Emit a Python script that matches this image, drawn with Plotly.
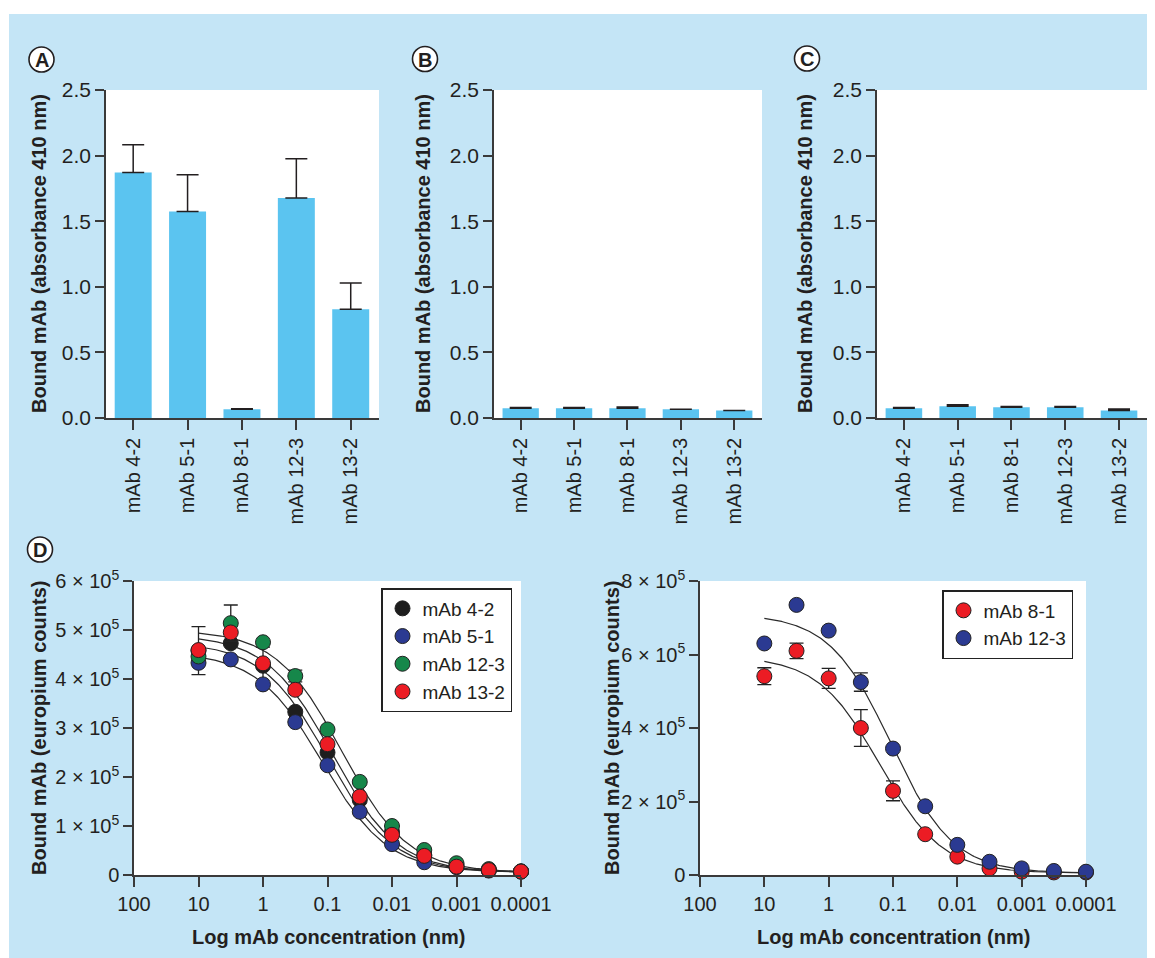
import numpy as np
import plotly.graph_objects as go

# page body has an 8px default margin: the figure is sized so it fills the
# 1155x958 window exactly from (8, 8)
OFF = 8
W, H = 1155 - OFF, 958 - OFF

# ---------------- data ----------------
categories = ["mAb 4-2", "mAb 5-1", "mAb 8-1", "mAb 12-3", "mAb 13-2"]
a_vals = [1.872, 1.574, 0.066, 1.676, 0.829]
a_err = [0.21, 0.28, 0.005, 0.30, 0.20]
b_vals = [0.074, 0.074, 0.074, 0.066, 0.058]
b_err = [0.006, 0.006, 0.010, 0.0, 0.0]
c_vals = [0.074, 0.089, 0.081, 0.081, 0.058]
c_err = [0.006, 0.012, 0.006, 0.006, 0.010]

conc = [10, 3.16, 1, 0.316, 0.1, 0.0316, 0.01, 0.00316, 0.001, 0.000316, 0.0001]

# Panel D left (x 1e5 europium counts)
d1_mab42 = [4.58, 4.73, 4.27, 3.33, 2.50, 1.53, 0.88, 0.41, 0.20, 0.10, 0.07]
d1_mab42_err = [0.49, 0, 0.38, 0, 0, 0, 0, 0, 0, 0, 0]
d1_mab51 = [4.33, 4.40, 3.89, 3.12, 2.24, 1.29, 0.63, 0.26, 0.16, 0.09, 0.07]
d1_mab51_err = [0] * 11
d1_mab123 = [4.46, 5.14, 4.75, 4.06, 2.97, 1.90, 1.00, 0.51, 0.24, 0.12, 0.075]
d1_mab123_err = [0, 0.37, 0, 0.12, 0, 0, 0, 0, 0, 0, 0]
d1_mab132 = [4.59, 4.95, 4.32, 3.78, 2.67, 1.60, 0.82, 0.39, 0.17, 0.10, 0.07]
d1_mab132_err = [0, 0, 0, 0.08, 0, 0, 0, 0, 0, 0, 0]

# Panel D right
d2_mab81 = [5.41, 6.10, 5.35, 4.00, 2.29, 1.11, 0.50, 0.18, 0.09, 0.07, 0.07]
d2_mab81_err = [0.23, 0.21, 0.27, 0.50, 0.27, 0, 0, 0, 0, 0, 0]
d2_mab123 = [6.30, 7.35, 6.65, 5.25, 3.44, 1.87, 0.82, 0.36, 0.18, 0.11, 0.09]
d2_mab123_err = [0, 0, 0, 0.25, 0, 0, 0, 0, 0, 0, 0]

# fitted 4-parameter logistic curves (top, bottom, EC50 nm, hill), x 1e5
fit_d1 = {"mAb 4-2": (4.75, 0.05, 0.10, 0.85),
          "mAb 5-1": (4.55, 0.05, 0.12, 0.85),
          "mAb 12-3": (5.00, 0.05, 0.06, 0.85),
          "mAb 13-2": (4.90, 0.05, 0.085, 0.85)}
fit_d2 = {"mAb 8-1": (5.95, 0.05, 0.16, 0.9),
          "mAb 12-3": (7.10, 0.05, 0.107, 0.9)}

d1_yticks = [0, 1, 2, 3, 4, 5, 6]
d2_yticks = [0, 2, 4, 6, 8]
d_xticks = [100, 10, 1, 0.1, 0.01, 0.001, 0.0001]
d_xticktext = ["100", "10", "1", "0.1", "0.01", "0.001", "0.0001"]

# ---------------- style ----------------
BG = "#c4e5f6"
BAR = "#5bc4f0"
INK = "#231f20"
AX = "#3a3a3a"
FONT = "Liberation Sans, Arial, sans-serif"
COL = {"black": "#1e1e1e", "blue": "#2b3a92", "green": "#16874a", "red": "#ec1c24"}

def X(p):
    return (p - OFF) / W

def Y(p):
    return 1 - (p - OFF) / H

fig = go.Figure()

# ---------- bar panels ----------
bar_panels = [(a_vals, a_err, "x", "y"), (b_vals, b_err, "x2", "y2"), (c_vals, c_err, "x3", "y3")]
for vals, err, xa, ya in bar_panels:
    fig.add_trace(go.Bar(
        x=categories, y=vals, xaxis=xa, yaxis=ya, width=0.68,
        marker=dict(color=BAR, line=dict(width=0)),
        error_y=dict(type="data", array=err, arrayminus=[0] * len(err), symmetric=False,
                     color=INK, thickness=1.5, width=11),
        showlegend=False, hoverinfo="skip"))

# ---------- dose response panels ----------
curve_x = np.logspace(1, -4, 300)

def logistic(x, p):
    top, bottom, ec50, hill = p
    return bottom + (top - bottom) / (1 + (ec50 / x) ** hill)

for name, p in fit_d1.items():
    fig.add_trace(go.Scatter(x=curve_x, y=logistic(curve_x, p) * 1e5, mode="lines",
                             line=dict(color="#2a2a2a", width=1.2), xaxis="x4", yaxis="y4",
                             showlegend=False, hoverinfo="skip"))
for name, p in fit_d2.items():
    fig.add_trace(go.Scatter(x=curve_x, y=logistic(curve_x, p) * 1e5, mode="lines",
                             line=dict(color="#2a2a2a", width=1.2), xaxis="x5", yaxis="y5",
                             showlegend=False, hoverinfo="skip"))

def pts(name, vals, err, color, xa, ya, legend):
    fig.add_trace(go.Scatter(
        x=conc, y=[v * 1e5 for v in vals], mode="markers", name=name,
        xaxis=xa, yaxis=ya, legend=legend, cliponaxis=False,
        marker=dict(size=15, color=color, line=dict(color="#222222", width=1)),
        error_y=dict(type="data", array=[e * 1e5 for e in err], color="#222222",
                     thickness=1.3, width=7)))

pts("mAb 4-2", d1_mab42, d1_mab42_err, COL["black"], "x4", "y4", "legend")
pts("mAb 5-1", d1_mab51, d1_mab51_err, COL["blue"], "x4", "y4", "legend")
pts("mAb 12-3", d1_mab123, d1_mab123_err, COL["green"], "x4", "y4", "legend")
pts("mAb 13-2", d1_mab132, d1_mab132_err, COL["red"], "x4", "y4", "legend")
pts("mAb 8-1", d2_mab81, d2_mab81_err, COL["red"], "x5", "y5", "legend2")
pts("mAb 12-3", d2_mab123, d2_mab123_err, COL["blue"], "x5", "y5", "legend2")

# ---------- axes ----------
common_axis = dict(showline=True, linecolor=AX, linewidth=1.5, ticks="outside",
                   tickcolor=AX, tickwidth=1.5, ticklen=10, showgrid=False, zeroline=False,
                   automargin=False,
                   tickfont=dict(family=FONT, size=20, color=INK))

bar_dom_y = [Y(418), Y(90)]
bar_x_domains = [(106, 379), (494, 762), (877, 1147)]
layout = dict()
for i, (l, r) in enumerate(bar_x_domains):
    sx = "" if i == 0 else str(i + 1)
    layout["xaxis" + sx] = dict(common_axis, domain=[X(l), X(r)], anchor="y" + sx,
                                type="category", range=[-0.5, 4.52], tickangle=-90,
                                tickfont=dict(family=FONT, size=20, color=INK))
    layout["yaxis" + sx] = dict(common_axis, domain=bar_dom_y, anchor="x" + sx,
                                range=[0, 2.5], tickvals=[0, 0.5, 1, 1.5, 2, 2.5],
                                tickformat=".1f", ticklen=9,
                                tickfont=dict(family=FONT, size=21, color=INK))

d_dom_y = [Y(875), Y(581)]
for ax_i, (l, r), yt in [(4, (134, 521), d1_yticks), (5, (700, 1086), d2_yticks)]:
    layout["xaxis%d" % ax_i] = dict(common_axis, domain=[X(l), X(r)], anchor="y%d" % ax_i,
                                    type="log", range=[2, -4], tickvals=d_xticks,
                                    ticktext=d_xticktext)
    layout["yaxis%d" % ax_i] = dict(common_axis, domain=d_dom_y, anchor="x%d" % ax_i,
                                    range=[0, yt[-1] * 1e5], tickvals=[v * 1e5 for v in yt],
                                    ticktext=["0"] + ["%d × 10<sup>5</sup>" % v for v in yt[1:]],
                                    ticklen=9)

# ---------- titles / labels ----------
ann = []
def title(text, x, y, angle=0):
    ann.append(dict(text="<b>%s</b>" % text, x=X(x), y=Y(y), xref="paper", yref="paper",
                    showarrow=False, textangle=angle, xanchor="center", yanchor="middle",
                    font=dict(family=FONT, size=20, color=INK)))

for cx in [39, 423, 805]:
    title("Bound mAb (absorbance 410 nm)", cx, 254, -90)
title("Bound mAb (europium counts)", 39, 728, -90)
title("Bound mAb (europium counts)", 612, 728, -90)
title("Log mAb concentration (nm)", 328, 937)
title("Log mAb concentration (nm)", 893, 937)

# white page strip above / left of the blue panel
shapes = [
    dict(type="rect", xref="paper", yref="paper", x0=0, x1=1, y0=Y(14), y1=1,
         fillcolor="white", line=dict(width=0), layer="below"),
    dict(type="rect", xref="paper", yref="paper", x0=0, x1=X(9), y0=0, y1=1,
         fillcolor="white", line=dict(width=0), layer="below"),
]
for letter, cx, cy in [("A", 41.5, 59.5), ("B", 425, 59), ("C", 807, 58.5), ("D", 40, 549.5)]:
    shapes.append(dict(type="circle", xref="paper", yref="paper",
                       x0=X(cx - 12.5), x1=X(cx + 12.5), y0=Y(cy + 12.5), y1=Y(cy - 12.5),
                       fillcolor="white", line=dict(color=INK, width=1.6)))
    ann.append(dict(text="<b>%s</b>" % letter, x=X(cx), y=Y(cy + 0.5), xref="paper", yref="paper",
                    showarrow=False, xanchor="center", yanchor="middle",
                    font=dict(family=FONT, size=20, color=INK)))

legend_style = dict(bgcolor="white", bordercolor="#222222", borderwidth=1.5,
                    font=dict(family=FONT, size=19, color=INK), xanchor="right", yanchor="top",
                    itemsizing="trace", tracegroupgap=0, itemwidth=30)

fig.update_layout(
    width=W, height=H, margin=dict(l=0, r=0, t=0, b=0, pad=0, autoexpand=False),
    paper_bgcolor=BG, plot_bgcolor="white",
    font=dict(family=FONT, color=INK),
    annotations=ann, shapes=shapes, barmode="overlay",
    legend=dict(legend_style, x=X(512), y=Y(588)),
    legend2=dict(legend_style, x=X(1073), y=Y(590)),
    **layout)

fig.write_html("out.html")
